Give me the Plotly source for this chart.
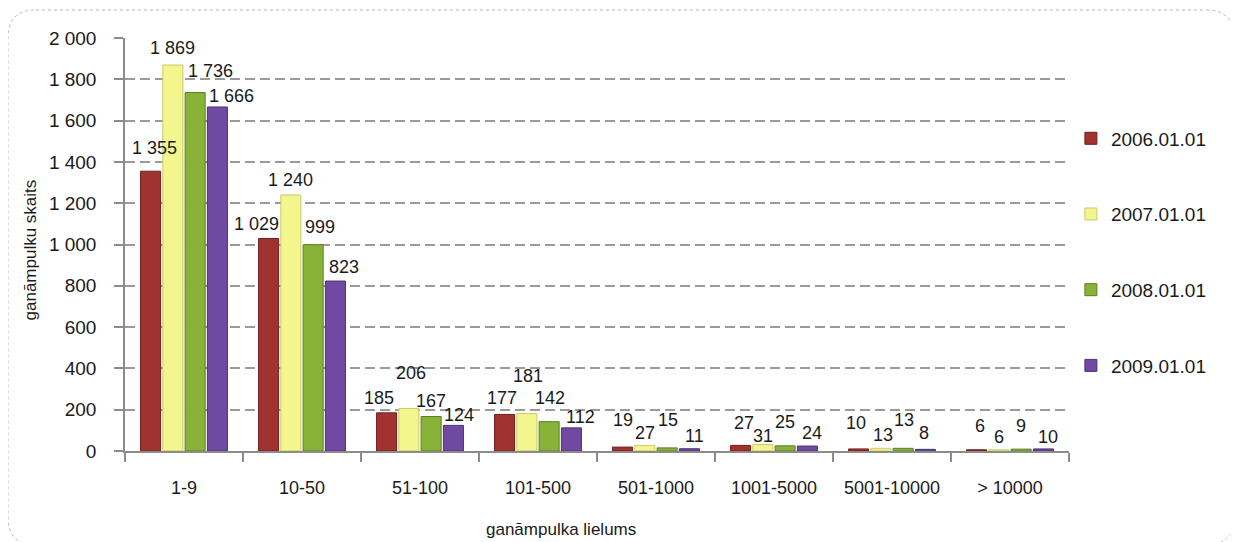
import plotly.graph_objects as go

categories = ["1-9", "10-50", "51-100", "101-500", "501-1000", "1001-5000", "5001-10000", "> 10000"]
series_names = ["2006.01.01", "2007.01.01", "2008.01.01", "2009.01.01"]
v2006 = [1355, 1029, 185, 177, 19, 27, 10, 6]
v2007 = [1869, 1240, 206, 181, 27, 31, 13, 6]
v2008 = [1736, 999, 167, 142, 15, 25, 13, 9]
v2009 = [1666, 823, 124, 112, 11, 24, 8, 10]
y_ticks = [0, 200, 400, 600, 800, 1000, 1200, 1400, 1600, 1800, 2000]

values = [v2006, v2007, v2008, v2009]

# data-label nudges (pixels) used to stagger overlapping labels as in the original
label_dx = [
    [4, -12, -8, -3, 0, 3, -3, 3],
    [0, 0, 2, 1, 0, 0, 2, 0],
    [15, 7, 0, 1, 1, 0, 1, 0],
    [14, 9, 6, 9, 5, 5, -1, 5],
]
label_gap = [
    [16, 8, 8, 9, 20, 15, 19, 17],
    [10, 8, 28, 31, 5, 2, 6, 6],
    [15, 11, 9, 17, 21, 17, 21, 16],
    [4, 7, 3, 4, 6, 6, 9, 5],
]

colors = ["#A0322F", "#F3F68C", "#88B238", "#7049A2"]
lines = ["#6E1F1E", "#C8C86C", "#5E7E22", "#4B3270"]
FONT = "Liberation Sans, Arial, sans-serif"
TXT = "#1a1a1a"

W, H = 1230, 534
L, R, T, B = 117, 169, 30, 91
PW = W - L - R
BARGAP, GROUPGAP = 0.245, 0.1
ncat, nser = len(categories), len(series_names)
cat_px = PW / ncat
slot_px = cat_px * (1 - BARGAP) / nser

fig = go.Figure()
for name, vals, c, lc in zip(series_names, values, colors, lines):
    fig.add_trace(go.Bar(
        x=categories, y=vals, name=name, legendgroup=name,
        marker=dict(color=c, line=dict(color=lc, width=1)),
    ))

for si, vals in enumerate(values):
    off = (si - (nser - 1) / 2) * slot_px
    for ci, (cat, v) in enumerate(zip(categories, vals)):
        fig.add_annotation(
            x=cat, y=v, xref="x", yref="y",
            text=f"{v:,}".replace(",", " "),
            showarrow=False, xanchor="center", yanchor="bottom",
            xshift=off + label_dx[si][ci], yshift=label_gap[si][ci] - 5,
            font=dict(size=18, color=TXT, family=FONT),
        )

# axis titles
fig.add_annotation(text="ganāmpulka lielums", xref="paper", yref="paper",
                   x=0.462, y=-0.19, xanchor="center", yanchor="middle",
                   showarrow=False, font=dict(size=17, color=TXT, family=FONT))
fig.add_annotation(text="ganāmpulku skaits", xref="paper", yref="paper",
                   x=-0.1, y=0.487, xanchor="center", yanchor="middle",
                   textangle=-90, showarrow=False,
                   font=dict(size=17, color=TXT, family=FONT))

# rounded dotted border
def px(x):
    return (x - L) / PW

def py(y):
    return (H - B - y) / (H - T - B)

x0, x1, y0, y1, r = 0, 1226, 2, 537, 28
path = (f"M {px(x0+r)},{py(y0)} L {px(x1-r)},{py(y0)} "
        f"Q {px(x1)},{py(y0)} {px(x1)},{py(y0+r)} "
        f"L {px(x1)},{py(y1-r)} Q {px(x1)},{py(y1)} {px(x1-r)},{py(y1)} "
        f"L {px(x0+r)},{py(y1)} Q {px(x0)},{py(y1)} {px(x0)},{py(y1-r)} "
        f"L {px(x0)},{py(y0+r)} Q {px(x0)},{py(y0)} {px(x0+r)},{py(y0)} Z")
fig.add_shape(type="path", path=path, xref="paper", yref="paper",
              line=dict(color="#B5B5B5", width=1, dash="dot"), layer="below")

fig.update_layout(
    width=W, height=H,
    margin=dict(l=L, r=R, t=T, b=B, autoexpand=False),
    paper_bgcolor="white", plot_bgcolor="white",
    barmode="group", bargap=BARGAP, bargroupgap=GROUPGAP,
    separators=". ",
    font=dict(family=FONT, size=18, color=TXT),
    showlegend=True,
    legend=dict(x=1.002, y=0.482, xanchor="left", yanchor="middle",
                tracegroupgap=48, traceorder="grouped",
                font=dict(size=19, color=TXT, family=FONT),
                itemwidth=30),
    xaxis=dict(
        showline=True, linecolor="#8C8C8C", linewidth=1.5,
        ticks="outside", tickson="boundaries", ticklen=9, tickcolor="#8C8C8C",
        tickwidth=1.5,
        tickfont=dict(size=18), ticklabelstandoff=20,
    ),
    yaxis=dict(
        range=[0, 2000], tickvals=y_ticks, tickformat=",d",
        showline=True, linecolor="#8C8C8C", linewidth=1.5,
        ticks="outside", ticklen=9, tickcolor="#8C8C8C", tickwidth=1.5,
        showgrid=True, gridcolor="#9A9A9A", griddash="10px,5px", gridwidth=1.5,
        tickfont=dict(size=19), zeroline=False, ticklabelstandoff=14,
    ),
)

fig.write_html("out.html")
